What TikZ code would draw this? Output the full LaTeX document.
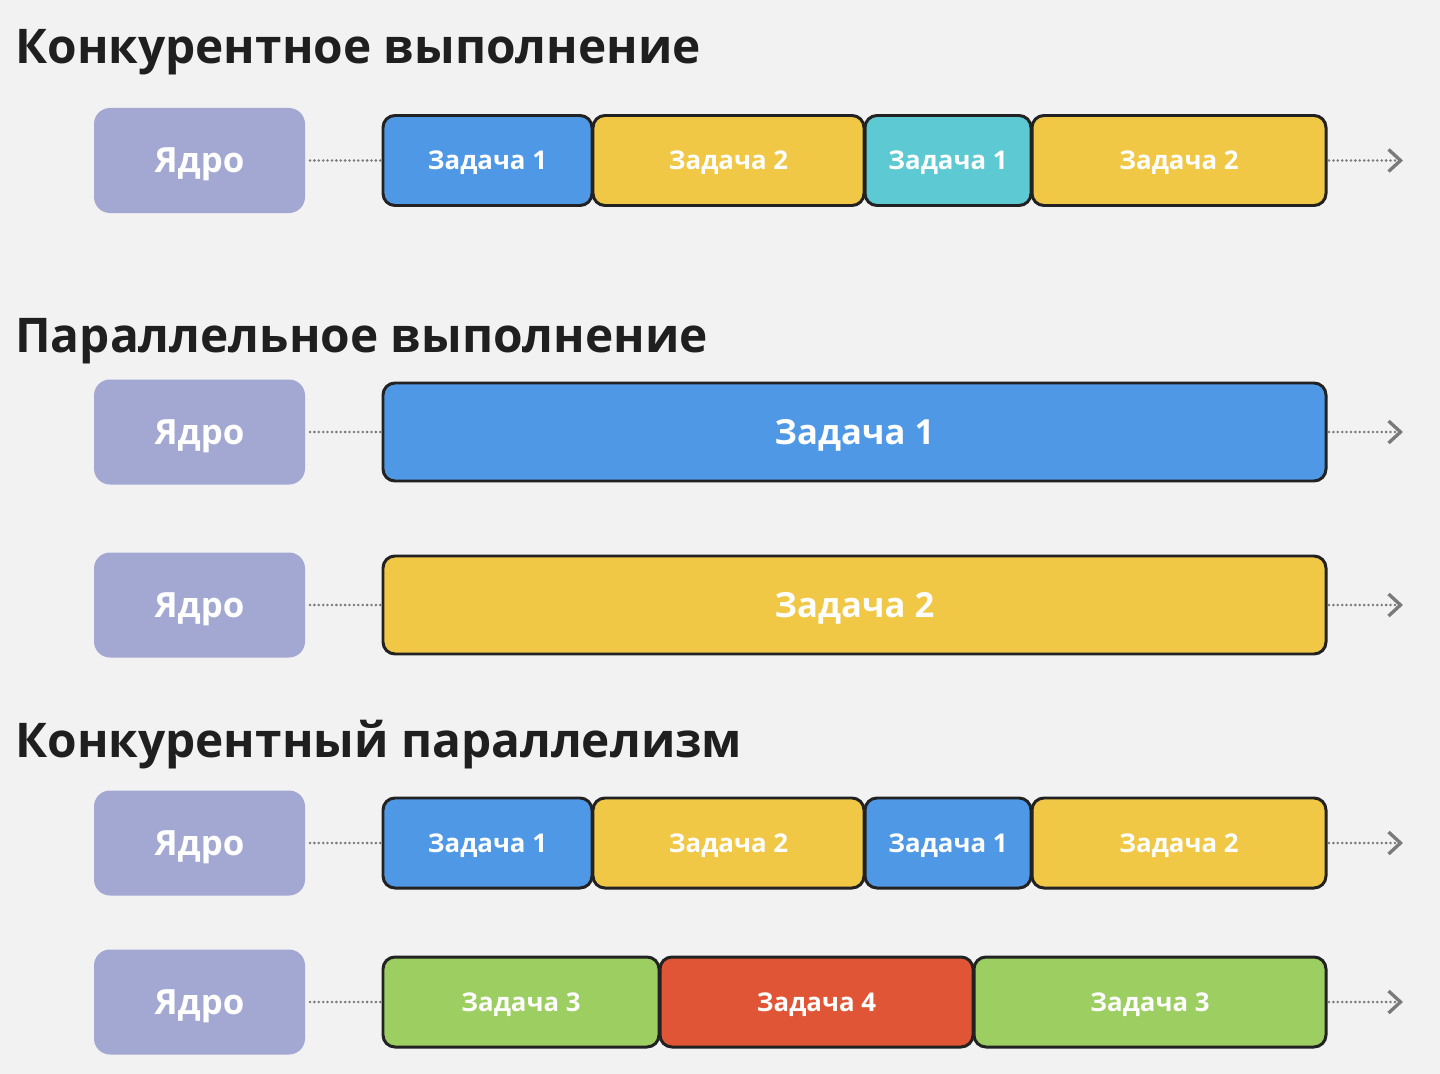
\documentclass[tikz,border=0pt]{standalone}
\usepackage{fontspec}
\setmainfont{Open Sans}
\usepackage{xcolor}
\usetikzlibrary{arrows.meta, positioning}
\definecolor{bgcol}{HTML}{F2F2F2}
\definecolor{corecol}{HTML}{A3A8D3}
\definecolor{bluecol}{HTML}{4F98E6}
\definecolor{yellowcol}{HTML}{F1C746}
\definecolor{tealcol}{HTML}{5DC9D3}
\definecolor{greencol}{HTML}{9CCE62}
\definecolor{redcol}{HTML}{E05535}
\definecolor{edgecol}{HTML}{222222}
\definecolor{linecol}{HTML}{7A7A7A}
\tikzstyle{title} = [anchor=base west, inner sep=0pt, font=\bfseries\fontsize{27.2}{30}\selectfont, text=black!88]
\tikzstyle{core} = [rectangle, rounded corners=0.32cm, outer sep=0pt, minimum width=4.22cm, minimum height=2.1cm, text depth=0pt, fill=corecol, text=white, font=\bfseries\fontsize{19.8}{22}\selectfont]
\tikzstyle{task} = [rectangle, rounded corners=0.24cm, outer sep=0pt, minimum height=1.8cm, text depth=0pt, draw=edgecol, line width=1.7pt, text=white, font=\bfseries\fontsize{14.7}{16}\selectfont]
\tikzstyle{bigtask} = [task, minimum height=1.96cm, font=\bfseries\fontsize{19.7}{22}\selectfont]
\tikzstyle{link} = [linecol, line width=1.6pt, line cap=round, dash pattern=on 0pt off 2.5pt]
\tikzstyle{arrow} = [link, -{Straight Barb[length=0.24cm, width=0.44cm, line width=1.9pt]}]

\begin{document}
\begin{tikzpicture}
\fill[bgcol] (0,0) rectangle (28.8,-21.48);
\useasboundingbox (0,0) rectangle (28.8,-21.48);

% Конкурентное выполнение
\node (title1) [title] at (0.3,-1.28) {Конкурентное выполнение};
\node (core1) [core] at (3.99,-3.21) {Ядро};
\node (a1) [task, fill=bluecol, minimum width=4.18cm, right=1.56cm of core1] {Задача 1};
\node (a2) [task, fill=yellowcol, minimum width=5.42cm, right=0.02cm of a1] {Задача 2};
\node (a3) [task, fill=tealcol, minimum width=3.32cm, right=0.02cm of a2] {Задача 1};
\node (a4) [task, fill=yellowcol, minimum width=5.88cm, right=0.02cm of a3] {Задача 2};
\coordinate (end1) at (28.06,-3.21);
\draw [link, shorten <=0.1cm, shorten >=0.04cm] (core1) -- (a1);
\draw [arrow, shorten <=0.06cm] (a4) -- (end1);

% Параллельное выполнение
\node (title2) [title] at (0.3,-7.04) {Параллельное выполнение};
\node (core2) [core] at (3.99,-8.64) {Ядро};
\node (b1) [bigtask, fill=bluecol, minimum width=18.86cm, right=1.56cm of core2] {Задача 1};
\coordinate (end2) at (28.06,-8.64);
\draw [link, shorten <=0.1cm, shorten >=0.04cm] (core2) -- (b1);
\draw [arrow, shorten <=0.06cm] (b1) -- (end2);

\node (core3) [core] at (3.99,-12.1) {Ядро};
\node (c1) [bigtask, fill=yellowcol, minimum width=18.86cm, right=1.56cm of core3] {Задача 2};
\coordinate (end3) at (28.06,-12.1);
\draw [link, shorten <=0.1cm, shorten >=0.04cm] (core3) -- (c1);
\draw [arrow, shorten <=0.06cm] (c1) -- (end3);

% Конкурентный параллелизм
\node (title3) [title] at (0.3,-15.14) {Конкурентный параллелизм};
\node (core4) [core] at (3.99,-16.86) {Ядро};
\node (d1) [task, fill=bluecol, minimum width=4.18cm, right=1.56cm of core4] {Задача 1};
\node (d2) [task, fill=yellowcol, minimum width=5.42cm, right=0.02cm of d1] {Задача 2};
\node (d3) [task, fill=bluecol, minimum width=3.32cm, right=0.02cm of d2] {Задача 1};
\node (d4) [task, fill=yellowcol, minimum width=5.88cm, right=0.02cm of d3] {Задача 2};
\coordinate (end4) at (28.06,-16.86);
\draw [link, shorten <=0.1cm, shorten >=0.04cm] (core4) -- (d1);
\draw [arrow, shorten <=0.06cm] (d4) -- (end4);

\node (core5) [core] at (3.99,-20.04) {Ядро};
\node (e1) [task, fill=greencol, minimum width=5.52cm, right=1.56cm of core5] {Задача 3};
\node (e2) [task, fill=redcol, minimum width=6.26cm, right=0.02cm of e1] {Задача 4};
\node (e3) [task, fill=greencol, minimum width=7.04cm, right=0.02cm of e2] {Задача 3};
\coordinate (end5) at (28.06,-20.04);
\draw [link, shorten <=0.1cm, shorten >=0.04cm] (core5) -- (e1);
\draw [arrow, shorten <=0.06cm] (e3) -- (end5);

\end{tikzpicture}
\end{document}
